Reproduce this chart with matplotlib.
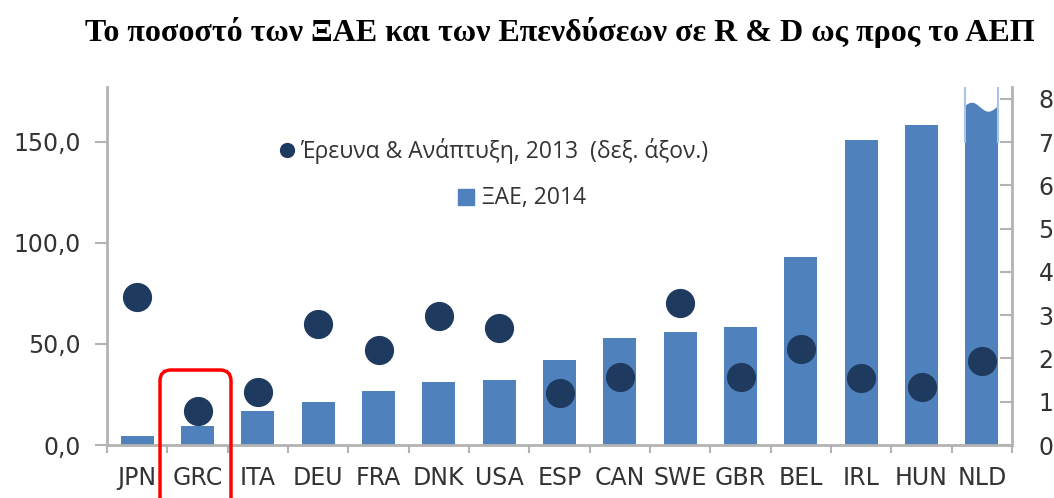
import numpy as np
import matplotlib
matplotlib.use('Agg')
import matplotlib.pyplot as plt
from matplotlib.patches import FancyBboxPatch, Polygon

countries = ['JPN', 'GRC', 'ITA', 'DEU', 'FRA', 'DNK', 'USA', 'ESP', 'CAN', 'SWE', 'GBR', 'BEL', 'IRL', 'HUN', 'NLD']
xae_2014 = [4.5, 9.5, 17, 21.5, 26.5, 31, 32, 42, 53, 56, 58.5, 93, 151, 158, 195]
rnd_2013 = [3.42, 0.78, 1.22, 2.8, 2.2, 2.98, 2.7, 1.19, 1.56, 3.28, 1.56, 2.22, 1.54, 1.35, 1.93]
left_ticks = [0, 50, 100, 150]
left_labels = ['0,0', '50,0', '100,0', '150,0']
right_ticks = list(range(0, 9))

title = 'Το ποσοστό των ΞΑΕ και των Επενδύσεων σε R & D ως προς το ΑΕΠ'
lab_rnd = 'Έρευνα & Ανάπτυξη, 2013  (δεξ. άξον.)'
lab_xae = 'ΞΑΕ, 2014'

bar_col = '#4f81bd'
dot_col = '#1f3a5f'
grey = '#b3b3b3'
txt = '#333333'

fig = plt.figure(figsize=(10.54, 4.98), dpi=100)
ax = fig.add_axes([107/1054, 53/498, 905/1054, 358/498])
ax2 = ax.twinx()

x = np.arange(len(countries))
ytop = 177
ax.bar(x, xae_2014, width=0.55, color=bar_col, zorder=2)
ax.set_ylim(0, ytop)
ax.set_xlim(-0.5, len(countries) - 0.5)

# broken top of the off-scale bar
i = len(countries) - 1
hw = 0.275
wx = np.linspace(i - hw, i + hw, 40)
wy = 167 + 2.2 * np.sin((wx - (i - hw)) / (2 * hw) * 2 * np.pi + 0.3)
poly = np.vstack([np.column_stack([wx, wy]), [[i + hw, ytop], [i - hw, ytop]]])
ax.add_patch(Polygon(poly, closed=True, facecolor='white', edgecolor='none', zorder=3))
ax.plot([i - hw, i - hw], [150, ytop], color='#a9c4e4', lw=1.5, zorder=4)
ax.plot([i + hw, i + hw], [150, ytop], color='#a9c4e4', lw=1.5, zorder=4)

ax2.plot(x, rnd_2013, 'o', color=dot_col, markersize=20, zorder=5)
ax2.set_ylim(0, ytop / 21.4)
ax.set_zorder(1)
ax2.set_zorder(2)
ax2.patch.set_visible(False)

for a in (ax, ax2):
    for s in a.spines.values():
        s.set_visible(False)
ax.spines['left'].set_visible(True)
ax.spines['bottom'].set_visible(True)
ax2.spines['right'].set_visible(True)
for s in (ax.spines['left'], ax.spines['bottom'], ax2.spines['right']):
    s.set_color(grey)
    s.set_linewidth(2)

ax.set_yticks(left_ticks)
ax.set_yticklabels(left_labels)
ax.tick_params(axis='y', length=9, width=1.5, color=grey, pad=10, labelsize=17, labelcolor=txt)
ax2.set_yticks(right_ticks)
ax2.tick_params(axis='y', direction='in', length=9, width=1.5, color=grey, pad=19, labelsize=17, labelcolor=txt)

ax.set_xticks(x)
ax.set_xticklabels(countries)
ax.set_xticks(np.arange(-0.5, len(countries), 1), minor=True)
ax.tick_params(axis='x', which='major', length=0, pad=15, labelsize=17, labelcolor=txt)
ax.tick_params(axis='x', which='minor', length=6, width=1.5, color=grey)

fig.text(560/1054, 1 - 32/498, title, ha='center', va='center', fontsize=23,
         fontweight='bold', family='Liberation Serif')

# legend drawn by hand
fig.lines.append(plt.Line2D([287/1054], [1 - 150/498], marker='o', markersize=10, color=dot_col,
                            transform=fig.transFigure, figure=fig))
fig.text(300/1054, 1 - 151/498, lab_rnd, ha='left', va='center', fontsize=16.5, color=txt, family='Open Sans')
fig.lines.append(plt.Line2D([466/1054], [1 - 197/498], marker='s', markersize=11, color=bar_col,
                            linestyle='none', transform=fig.transFigure, figure=fig))
fig.text(482/1054, 1 - 198/498, lab_xae, ha='left', va='center', fontsize=16.5, color=txt, family='Open Sans')

# red box around GRC
box = FancyBboxPatch((160/1054, -0.1), 71/1054, 0.1 + (498 - 370)/498,
                     boxstyle='round,pad=0,rounding_size=%f' % (11/1054), mutation_aspect=1054/498,
                     transform=fig.transFigure, fill=False, edgecolor='#ff0000', linewidth=2.5, clip_on=False)
fig.patches.append(box)

fig.savefig('out.png', dpi=100)
